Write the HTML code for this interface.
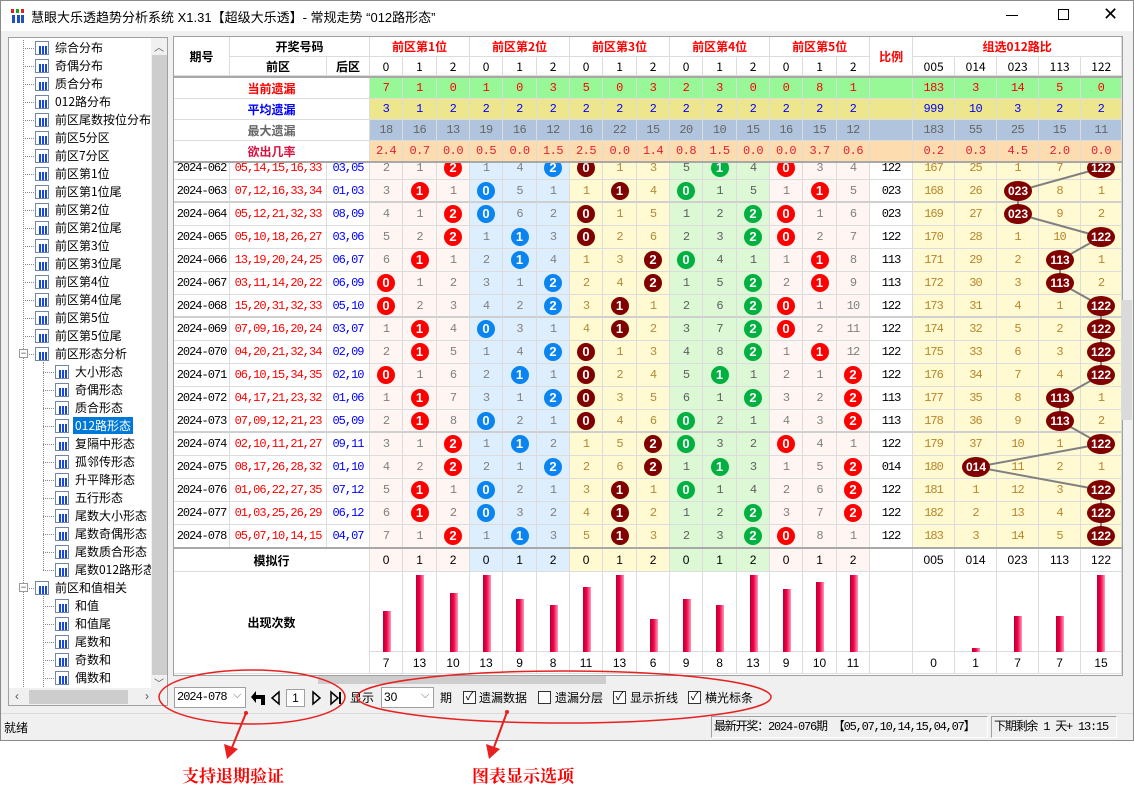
<!DOCTYPE html>
<html><head><meta charset="utf-8">
<style>
*{box-sizing:border-box}
body{margin:0;width:1134px;height:792px;position:relative;background:#fff;font-family:"Liberation Sans","Noto Sans CJK SC",sans-serif;overflow:hidden;font-size:12px;color:#000}
.win{position:absolute;left:0;top:0;width:1134px;height:741px;border:1px solid #8a8a8a;background:#f0f0f0}
.tb{position:absolute;left:0;top:0;width:1132px;height:30px;background:#fff}
.ttl{position:absolute;left:30px;top:6px;font-size:13px;color:#000}
.tree{position:absolute;left:8px;top:37px;width:160px;height:669px;border:1px solid #a0a0a0;background:#fff;overflow:hidden}
.t{position:absolute;height:18px;line-height:18px;font-size:12px;padding-left:20px;white-space:nowrap;font-family:"Noto Sans CJK SC","Liberation Sans",sans-serif}
.t::before{content:"";position:absolute;left:-12px;top:9px;width:11px;border-top:1px dotted #888}
.t s{position:absolute;left:0;top:2px;width:14px;height:14px;border:1px solid #6f86a6;background:linear-gradient(to right,transparent 2px,#1848d8 2px 4px,transparent 4px 5px,#1848d8 5px 7px,transparent 7px 8px,#1848d8 8px 10px,transparent 10px) 1px 4px/12px 8px no-repeat,#fff}
.l1{left:26px}.l2{left:46px}
.sel{background:#0078d7;color:#fff;padding:0 2px;margin-left:-2px}
.vl{position:absolute;border-left:1px dotted #888}
.mb{position:absolute;width:9px;height:9px;border:1px solid #999;background:#fff;font-size:9px;line-height:6px;text-align:center;color:#333}
.sb{position:absolute;background:#f0f0f0}
.th{position:absolute;background:#cdcdcd}
.grid{position:absolute;left:174px;border-collapse:separate;border-spacing:0;table-layout:fixed;width:948px}
.grid td{padding:0;border-right:1px solid #dcdcdc;border-bottom:1px solid #dcdcdc;text-align:center;overflow:hidden;white-space:nowrap;font-size:12px}
.hd td{background:#fff;font-family:"Noto Sans CJK SC",sans-serif}
.hb{font-weight:bold;font-size:13px}
.red{color:#f00}
.st td{font-family:"Liberation Mono",monospace;font-size:12px;letter-spacing:-0.5px}
.lab{font-weight:bold;font-size:13px;font-family:"Noto Sans CJK SC",sans-serif !important;letter-spacing:0 !important;background:#fff !important}
.r1 td{background:#98f898;color:#f00}
.r2 td{background:#eee68c;color:#00f}
.r3 td{background:#b0c4de;color:#666}
.r4 td{background:#fddcb0;color:#e0203a}
.d td{font-family:"Liberation Mono",monospace;letter-spacing:-1px;font-size:12px}
.d td:nth-child(1){color:#000}
.d td:nth-child(2){color:#f00}
.d td:nth-child(3){color:#00f}
.d td:nth-child(n+4):nth-child(-n+9){color:#808080}
.d td:nth-child(n+10):nth-child(-n+12){color:#b08a3a}
.d td:nth-child(n+13):nth-child(-n+15){color:#606060}
.d td:nth-child(n+16):nth-child(-n+18){color:#808080}
.d td:nth-child(19){color:#000}
.d td:nth-child(n+20){color:#b8862c}
i{display:inline-block;width:18px;height:18px;border-radius:50%;color:#fff;font-weight:bold;font-style:normal;line-height:18px;font-size:13px;letter-spacing:0;vertical-align:middle;font-family:"Liberation Sans",sans-serif}
.d td:nth-child(n+4):nth-child(-n+6) i,.d td:nth-child(n+16):nth-child(-n+18) i{background:#f00}
.d td:nth-child(n+7):nth-child(-n+9) i{background:#0a84f0}
.d td:nth-child(n+10):nth-child(-n+12) i{background:#800000}
.d td:nth-child(n+13):nth-child(-n+15) i{background:#00b040}
.d tr{height:23px}
.d tr.s td{border-bottom:2px solid #cfcfcf}
.clip{position:absolute;left:0;width:1134px;overflow:hidden}
.bar{position:absolute;width:8px;background:linear-gradient(to right,#b8002c,#f0004a 45%,#ff9ab8)}
.ctl{position:absolute;font-size:12px;font-family:"Noto Sans CJK SC",sans-serif}
.box{position:absolute;border:1px solid #a0a0a0;background:#fff}
.cb{position:absolute;width:13px;height:13px;border:1px solid #333;background:#fff;font-size:11px;line-height:11px;text-align:center}
.pan{position:absolute;top:716px;height:22px;border:1px solid #a0a0a0;border-right-color:#fff;border-bottom-color:#fff;line-height:20px;font-size:12px;padding-left:2px;white-space:nowrap;overflow:hidden;font-family:"Liberation Mono","Noto Sans CJK SC",monospace;letter-spacing:-1.2px}
</style></head><body>
<div class="win">
<div class="tb">
 <div style="position:absolute;left:10px;top:8px;width:14px;height:14px;background:linear-gradient(to right,transparent 1px,#2050c0 1px 4px,transparent 4px 6px,#2050c0 6px 9px,transparent 9px 10px,#2050c0 10px 13px,transparent 13px) 0 6px/14px 8px no-repeat,linear-gradient(to right,#e02020 0 3px,transparent 3px 5px,#20a020 5px 8px,transparent 8px 10px,#e02020 10px 13px,transparent 13px) 0 0/14px 4px no-repeat"></div>
 <div class="ttl">慧眼大乐透趋势分析系统 X1.31【超级大乐透】- 常规走势 “012路形态”</div>
 <div style="position:absolute;left:1005px;top:14px;width:12px;border-top:1px solid #000"></div>
 <div style="position:absolute;left:1057px;top:8px;width:11px;height:11px;border:1px solid #000"></div>
 <div style="position:absolute;left:1102px;top:3px;font-size:18px;line-height:20px">✕</div>
</div>
</div>

<div class="tree">
 <div class="vl" style="left:14px;top:2px;height:667px"></div>
 <div class="vl" style="left:34px;top:324px;height:208px"></div>
 <div class="vl" style="left:34px;top:558px;height:111px"></div>
 <div class="t l1" style="top:1px"><s></s>综合分布</div>
 <div class="t l1" style="top:19px"><s></s>奇偶分布</div>
 <div class="t l1" style="top:37px"><s></s>质合分布</div>
 <div class="t l1" style="top:55px"><s></s>012路分布</div>
 <div class="t l1" style="top:73px"><s></s>前区尾数按位分布</div>
 <div class="t l1" style="top:91px"><s></s>前区5分区</div>
 <div class="t l1" style="top:109px"><s></s>前区7分区</div>
 <div class="t l1" style="top:127px"><s></s>前区第1位</div>
 <div class="t l1" style="top:145px"><s></s>前区第1位尾</div>
 <div class="t l1" style="top:163px"><s></s>前区第2位</div>
 <div class="t l1" style="top:181px"><s></s>前区第2位尾</div>
 <div class="t l1" style="top:199px"><s></s>前区第3位</div>
 <div class="t l1" style="top:217px"><s></s>前区第3位尾</div>
 <div class="t l1" style="top:235px"><s></s>前区第4位</div>
 <div class="t l1" style="top:253px"><s></s>前区第4位尾</div>
 <div class="t l1" style="top:271px"><s></s>前区第5位</div>
 <div class="t l1" style="top:289px"><s></s>前区第5位尾</div>
 <div class="t l1" style="top:307px"><s></s>前区形态分析</div>
 <div class="mb" style="left:10px;top:311px">−</div>
 <div class="t l2" style="top:325px"><s></s>大小形态</div>
 <div class="t l2" style="top:343px"><s></s>奇偶形态</div>
 <div class="t l2" style="top:361px"><s></s>质合形态</div>
 <div class="t l2" style="top:379px"><s></s><span class="sel">012路形态</span></div>
 <div class="t l2" style="top:397px"><s></s>复隔中形态</div>
 <div class="t l2" style="top:415px"><s></s>孤邻传形态</div>
 <div class="t l2" style="top:433px"><s></s>升平降形态</div>
 <div class="t l2" style="top:451px"><s></s>五行形态</div>
 <div class="t l2" style="top:469px"><s></s>尾数大小形态</div>
 <div class="t l2" style="top:487px"><s></s>尾数奇偶形态</div>
 <div class="t l2" style="top:505px"><s></s>尾数质合形态</div>
 <div class="t l2" style="top:523px"><s></s>尾数012路形态</div>
 <div class="t l1" style="top:541px"><s></s>前区和值相关</div>
 <div class="mb" style="left:10px;top:545px">−</div>
 <div class="t l2" style="top:559px"><s></s>和值</div>
 <div class="t l2" style="top:577px"><s></s>和值尾</div>
 <div class="t l2" style="top:595px"><s></s>尾数和</div>
 <div class="t l2" style="top:613px"><s></s>奇数和</div>
 <div class="t l2" style="top:631px"><s></s>偶数和</div>
 <div class="t l2" style="top:649px"><s></s></div>
 <div class="sb" style="left:142px;top:0;width:17px;height:650px"></div>
 <div class="th" style="left:143px;top:17px;width:15px;height:620px"></div>
 <div style="position:absolute;left:145px;top:1px;font-size:10px;color:#555">︿</div>
 <div style="position:absolute;left:145px;top:637px;font-size:10px;color:#555">﹀</div>
 <div class="sb" style="left:0;top:650px;width:159px;height:18px"></div>
 <div class="th" style="left:20px;top:652px;width:99px;height:14px"></div>
 <div style="position:absolute;left:6px;top:651px;font-size:12px;color:#555">‹</div>
 <div style="position:absolute;left:136px;top:651px;font-size:12px;color:#555">›</div>
</div>

<div style="position:absolute;left:173px;top:36px;width:950px;height:640px;border:1px solid #a0a0a0;background:#fff"></div>

<table class="grid hd" style="top:37px">
<colgroup><col style="width:56px"><col style="width:97px"><col style="width:43px"><col style="width:33px"><col style="width:34px"><col style="width:33px"><col style="width:33px"><col style="width:34px"><col style="width:33px"><col style="width:33px"><col style="width:34px"><col style="width:33px"><col style="width:33px"><col style="width:34px"><col style="width:33px"><col style="width:33px"><col style="width:34px"><col style="width:33px"><col style="width:43px"><col style="width:42px"><col style="width:42px"><col style="width:42px"><col style="width:42px"><col style="width:41px"></colgroup>
<tr style="height:20px"><td rowspan="2" class="hb">期号</td><td colspan="2" class="hb">开奖号码</td><td colspan="3" class="hb red">前区第1位</td><td colspan="3" class="hb red">前区第2位</td><td colspan="3" class="hb red">前区第3位</td><td colspan="3" class="hb red">前区第4位</td><td colspan="3" class="hb red">前区第5位</td><td rowspan="2" class="hb red">比例</td><td colspan="5" class="hb red">组选012路比</td></tr>
<tr style="height:19px"><td class="hb">前区</td><td class="hb">后区</td><td>0</td><td>1</td><td>2</td><td>0</td><td>1</td><td>2</td><td>0</td><td>1</td><td>2</td><td>0</td><td>1</td><td>2</td><td>0</td><td>1</td><td>2</td><td>005</td><td>014</td><td>023</td><td>113</td><td>122</td></tr>
</table>
<div style="position:absolute;left:174px;top:76px;width:948px;height:2px;background:#a8a8a8"></div>
<table class="grid st" style="top:78px">
<colgroup><col style="width:56px"><col style="width:97px"><col style="width:43px"><col style="width:33px"><col style="width:34px"><col style="width:33px"><col style="width:33px"><col style="width:34px"><col style="width:33px"><col style="width:33px"><col style="width:34px"><col style="width:33px"><col style="width:33px"><col style="width:34px"><col style="width:33px"><col style="width:33px"><col style="width:34px"><col style="width:33px"><col style="width:43px"><col style="width:42px"><col style="width:42px"><col style="width:42px"><col style="width:42px"><col style="width:41px"></colgroup>
<tr class="r1" style="height:21px"><td colspan="3" class="lab" style="color:#f00">当前遗漏</td><td>7</td><td>1</td><td>0</td><td>1</td><td>0</td><td>3</td><td>5</td><td>0</td><td>3</td><td>2</td><td>3</td><td>0</td><td>0</td><td>8</td><td>1</td><td></td><td>183</td><td>3</td><td>14</td><td>5</td><td>0</td></tr>
<tr class="r2" style="height:21px"><td colspan="3" class="lab" style="color:#00f">平均遗漏</td><td>3</td><td>1</td><td>2</td><td>2</td><td>2</td><td>2</td><td>2</td><td>2</td><td>2</td><td>2</td><td>2</td><td>2</td><td>2</td><td>2</td><td>2</td><td></td><td>999</td><td>10</td><td>3</td><td>2</td><td>2</td></tr>
<tr class="r3" style="height:21px"><td colspan="3" class="lab" style="color:#666">最大遗漏</td><td>18</td><td>16</td><td>13</td><td>19</td><td>16</td><td>12</td><td>16</td><td>22</td><td>15</td><td>20</td><td>10</td><td>15</td><td>16</td><td>15</td><td>12</td><td></td><td>183</td><td>55</td><td>25</td><td>15</td><td>11</td></tr>
<tr class="r4" style="height:21px"><td colspan="3" class="lab" style="color:#d81040">欲出几率</td><td>2.4</td><td>0.7</td><td>0.0</td><td>0.5</td><td>0.0</td><td>1.5</td><td>2.5</td><td>0.0</td><td>1.4</td><td>0.8</td><td>1.5</td><td>0.0</td><td>0.0</td><td>3.7</td><td>0.6</td><td></td><td>0.2</td><td>0.3</td><td>4.5</td><td>2.0</td><td>0.0</td></tr>
</table>
<div style="position:absolute;left:174px;top:161px;width:948px;height:2px;background:#a8a8a8"></div>

<div class="clip" style="top:163px;height:384px">
<table class="grid d" style="top:-6px">
<colgroup><col style="width:56px;background:#fff"><col style="width:97px;background:#fff"><col style="width:43px;background:#fff"><col style="width:33px;background:#fff5f3"><col style="width:34px;background:#fff5f3"><col style="width:33px;background:#fff5f3"><col style="width:33px;background:#ddeeff"><col style="width:34px;background:#ddeeff"><col style="width:33px;background:#ddeeff"><col style="width:33px;background:#fffad2"><col style="width:34px;background:#fffad2"><col style="width:33px;background:#fffad2"><col style="width:33px;background:#dcf8d4"><col style="width:34px;background:#dcf8d4"><col style="width:33px;background:#dcf8d4"><col style="width:33px;background:#fff5f3"><col style="width:34px;background:#fff5f3"><col style="width:33px;background:#fff5f3"><col style="width:43px;background:#fff"><col style="width:42px;background:#fffad2"><col style="width:42px;background:#fffad2"><col style="width:42px;background:#fffad2"><col style="width:42px;background:#fffad2"><col style="width:41px;background:#fffad2"></colgroup>
<tr><td>2024-062</td><td>05,14,15,16,33</td><td>03,05</td><td>2</td><td>1</td><td><i>2</i></td><td>1</td><td>4</td><td><i>2</i></td><td><i>0</i></td><td>1</td><td>3</td><td>5</td><td><i>1</i></td><td>4</td><td><i>0</i></td><td>3</td><td>4</td><td>122</td><td>167</td><td>25</td><td>1</td><td>7</td><td></td></tr>
<tr class="s"><td>2024-063</td><td>07,12,16,33,34</td><td>01,03</td><td>3</td><td><i>1</i></td><td>1</td><td><i>0</i></td><td>5</td><td>1</td><td>1</td><td><i>1</i></td><td>4</td><td><i>0</i></td><td>1</td><td>5</td><td>1</td><td><i>1</i></td><td>5</td><td>023</td><td>168</td><td>26</td><td></td><td>8</td><td>1</td></tr>
<tr><td>2024-064</td><td>05,12,21,32,33</td><td>08,09</td><td>4</td><td>1</td><td><i>2</i></td><td><i>0</i></td><td>6</td><td>2</td><td><i>0</i></td><td>1</td><td>5</td><td>1</td><td>2</td><td><i>2</i></td><td><i>0</i></td><td>1</td><td>6</td><td>023</td><td>169</td><td>27</td><td></td><td>9</td><td>2</td></tr>
<tr><td>2024-065</td><td>05,10,18,26,27</td><td>03,06</td><td>5</td><td>2</td><td><i>2</i></td><td>1</td><td><i>1</i></td><td>3</td><td><i>0</i></td><td>2</td><td>6</td><td>2</td><td>3</td><td><i>2</i></td><td><i>0</i></td><td>2</td><td>7</td><td>122</td><td>170</td><td>28</td><td>1</td><td>10</td><td></td></tr>
<tr><td>2024-066</td><td>13,19,20,24,25</td><td>06,07</td><td>6</td><td><i>1</i></td><td>1</td><td>2</td><td><i>1</i></td><td>4</td><td>1</td><td>3</td><td><i>2</i></td><td><i>0</i></td><td>4</td><td>1</td><td>1</td><td><i>1</i></td><td>8</td><td>113</td><td>171</td><td>29</td><td>2</td><td></td><td>1</td></tr>
<tr><td>2024-067</td><td>03,11,14,20,22</td><td>06,09</td><td><i>0</i></td><td>1</td><td>2</td><td>3</td><td>1</td><td><i>2</i></td><td>2</td><td>4</td><td><i>2</i></td><td>1</td><td>5</td><td><i>2</i></td><td>2</td><td><i>1</i></td><td>9</td><td>113</td><td>172</td><td>30</td><td>3</td><td></td><td>2</td></tr>
<tr class="s"><td>2024-068</td><td>15,20,31,32,33</td><td>05,10</td><td><i>0</i></td><td>2</td><td>3</td><td>4</td><td>2</td><td><i>2</i></td><td>3</td><td><i>1</i></td><td>1</td><td>2</td><td>6</td><td><i>2</i></td><td><i>0</i></td><td>1</td><td>10</td><td>122</td><td>173</td><td>31</td><td>4</td><td>1</td><td></td></tr>
<tr><td>2024-069</td><td>07,09,16,20,24</td><td>03,07</td><td>1</td><td><i>1</i></td><td>4</td><td><i>0</i></td><td>3</td><td>1</td><td>4</td><td><i>1</i></td><td>2</td><td>3</td><td>7</td><td><i>2</i></td><td><i>0</i></td><td>2</td><td>11</td><td>122</td><td>174</td><td>32</td><td>5</td><td>2</td><td></td></tr>
<tr><td>2024-070</td><td>04,20,21,32,34</td><td>02,09</td><td>2</td><td><i>1</i></td><td>5</td><td>1</td><td>4</td><td><i>2</i></td><td><i>0</i></td><td>1</td><td>3</td><td>4</td><td>8</td><td><i>2</i></td><td>1</td><td><i>1</i></td><td>12</td><td>122</td><td>175</td><td>33</td><td>6</td><td>3</td><td></td></tr>
<tr><td>2024-071</td><td>06,10,15,34,35</td><td>02,10</td><td><i>0</i></td><td>1</td><td>6</td><td>2</td><td><i>1</i></td><td>1</td><td><i>0</i></td><td>2</td><td>4</td><td>5</td><td><i>1</i></td><td>1</td><td>2</td><td>1</td><td><i>2</i></td><td>122</td><td>176</td><td>34</td><td>7</td><td>4</td><td></td></tr>
<tr><td>2024-072</td><td>04,17,21,23,32</td><td>01,06</td><td>1</td><td><i>1</i></td><td>7</td><td>3</td><td>1</td><td><i>2</i></td><td><i>0</i></td><td>3</td><td>5</td><td>6</td><td>1</td><td><i>2</i></td><td>3</td><td>2</td><td><i>2</i></td><td>113</td><td>177</td><td>35</td><td>8</td><td></td><td>1</td></tr>
<tr class="s"><td>2024-073</td><td>07,09,12,21,23</td><td>05,09</td><td>2</td><td><i>1</i></td><td>8</td><td><i>0</i></td><td>2</td><td>1</td><td><i>0</i></td><td>4</td><td>6</td><td><i>0</i></td><td>2</td><td>1</td><td>4</td><td>3</td><td><i>2</i></td><td>113</td><td>178</td><td>36</td><td>9</td><td></td><td>2</td></tr>
<tr><td>2024-074</td><td>02,10,11,21,27</td><td>09,11</td><td>3</td><td>1</td><td><i>2</i></td><td>1</td><td><i>1</i></td><td>2</td><td>1</td><td>5</td><td><i>2</i></td><td><i>0</i></td><td>3</td><td>2</td><td><i>0</i></td><td>4</td><td>1</td><td>122</td><td>179</td><td>37</td><td>10</td><td>1</td><td></td></tr>
<tr><td>2024-075</td><td>08,17,26,28,32</td><td>01,10</td><td>4</td><td>2</td><td><i>2</i></td><td>2</td><td>1</td><td><i>2</i></td><td>2</td><td>6</td><td><i>2</i></td><td>1</td><td><i>1</i></td><td>3</td><td>1</td><td>5</td><td><i>2</i></td><td>014</td><td>180</td><td></td><td>11</td><td>2</td><td>1</td></tr>
<tr><td>2024-076</td><td>01,06,22,27,35</td><td>07,12</td><td>5</td><td><i>1</i></td><td>1</td><td><i>0</i></td><td>2</td><td>1</td><td>3</td><td><i>1</i></td><td>1</td><td><i>0</i></td><td>1</td><td>4</td><td>2</td><td>6</td><td><i>2</i></td><td>122</td><td>181</td><td>1</td><td>12</td><td>3</td><td></td></tr>
<tr><td>2024-077</td><td>01,03,25,26,29</td><td>06,12</td><td>6</td><td><i>1</i></td><td>2</td><td><i>0</i></td><td>3</td><td>2</td><td>4</td><td><i>1</i></td><td>2</td><td>1</td><td>2</td><td><i>2</i></td><td>3</td><td>7</td><td><i>2</i></td><td>122</td><td>182</td><td>2</td><td>13</td><td>4</td><td></td></tr>
<tr><td>2024-078</td><td>05,07,10,14,15</td><td>04,07</td><td>7</td><td>1</td><td><i>2</i></td><td>1</td><td><i>1</i></td><td>3</td><td>5</td><td><i>1</i></td><td>3</td><td>2</td><td>3</td><td><i>2</i></td><td><i>0</i></td><td>8</td><td>1</td><td>122</td><td>183</td><td>3</td><td>14</td><td>5</td><td></td></tr>
</table>
<svg style="position:absolute;left:0;top:-163px" width="1134" height="792">
<polyline points="1101,168 1018,191 1018,214 1101,237 1060,260 1060,283 1101,306 1101,329 1101,352 1101,375 1060,398 1060,421 1101,444 976,467 1101,490 1101,513 1101,536" fill="none" stroke="#808080" stroke-width="2"/>
<g fill="#800000"><ellipse cx="1101" cy="168" rx="14" ry="10"/><ellipse cx="1018" cy="191" rx="14" ry="10"/><ellipse cx="1018" cy="214" rx="14" ry="10"/><ellipse cx="1101" cy="237" rx="14" ry="10"/><ellipse cx="1060" cy="260" rx="14" ry="10"/><ellipse cx="1060" cy="283" rx="14" ry="10"/><ellipse cx="1101" cy="306" rx="14" ry="10"/><ellipse cx="1101" cy="329" rx="14" ry="10"/><ellipse cx="1101" cy="352" rx="14" ry="10"/><ellipse cx="1101" cy="375" rx="14" ry="10"/><ellipse cx="1060" cy="398" rx="14" ry="10"/><ellipse cx="1060" cy="421" rx="14" ry="10"/><ellipse cx="1101" cy="444" rx="14" ry="10"/><ellipse cx="976" cy="467" rx="14" ry="10"/><ellipse cx="1101" cy="490" rx="14" ry="10"/><ellipse cx="1101" cy="513" rx="14" ry="10"/><ellipse cx="1101" cy="536" rx="14" ry="10"/></g>
<g fill="#fff" font-family="Liberation Sans" font-weight="bold" font-size="12" text-anchor="middle"><text x="1101" y="172">122</text><text x="1018" y="195">023</text><text x="1018" y="218">023</text><text x="1101" y="241">122</text><text x="1060" y="264">113</text><text x="1060" y="287">113</text><text x="1101" y="310">122</text><text x="1101" y="333">122</text><text x="1101" y="356">122</text><text x="1101" y="379">122</text><text x="1060" y="402">113</text><text x="1060" y="425">113</text><text x="1101" y="448">122</text><text x="976" y="471">014</text><text x="1101" y="494">122</text><text x="1101" y="517">122</text><text x="1101" y="540">122</text></g>
</svg>
</div>
<div style="position:absolute;left:174px;top:547px;width:948px;height:2px;background:#a8a8a8"></div>

<table class="grid" style="top:549px">
<colgroup><col style="width:56px"><col style="width:97px"><col style="width:43px"><col style="width:33px;background:#fff5f3"><col style="width:34px;background:#fff5f3"><col style="width:33px;background:#fff5f3"><col style="width:33px;background:#ddeeff"><col style="width:34px;background:#ddeeff"><col style="width:33px;background:#ddeeff"><col style="width:33px;background:#fffad2"><col style="width:34px;background:#fffad2"><col style="width:33px;background:#fffad2"><col style="width:33px;background:#dcf8d4"><col style="width:34px;background:#dcf8d4"><col style="width:33px;background:#dcf8d4"><col style="width:33px;background:#fff5f3"><col style="width:34px;background:#fff5f3"><col style="width:33px;background:#fff5f3"><col style="width:43px"><col style="width:42px"><col style="width:42px"><col style="width:42px"><col style="width:42px"><col style="width:41px"></colgroup>
<tr style="height:23px"><td colspan="3" class="hb" style="background:#fff;font-family:'Noto Sans CJK SC',sans-serif">模拟行</td><td>0</td><td>1</td><td>2</td><td>0</td><td>1</td><td>2</td><td>0</td><td>1</td><td>2</td><td>0</td><td>1</td><td>2</td><td>0</td><td>1</td><td>2</td><td style="background:#fff"></td><td style="background:#fff">005</td><td style="background:#fff">014</td><td style="background:#fff">023</td><td style="background:#fff">113</td><td style="background:#fff">122</td></tr>
<tr style="height:80px;background:#fff"><td colspan="3" rowspan="2" class="hb" style="background:#fff;font-family:'Noto Sans CJK SC',sans-serif">出现次数</td><td style="background:#fff"></td><td style="background:#fff"></td><td style="background:#fff"></td><td style="background:#fff"></td><td style="background:#fff"></td><td style="background:#fff"></td><td style="background:#fff"></td><td style="background:#fff"></td><td style="background:#fff"></td><td style="background:#fff"></td><td style="background:#fff"></td><td style="background:#fff"></td><td style="background:#fff"></td><td style="background:#fff"></td><td style="background:#fff"></td><td style="background:#fff"></td><td></td><td></td><td></td><td></td><td></td></tr>
<tr style="height:22px"><td style="background:#fff">7</td><td style="background:#fff">13</td><td style="background:#fff">10</td><td style="background:#fff">13</td><td style="background:#fff">9</td><td style="background:#fff">8</td><td style="background:#fff">11</td><td style="background:#fff">13</td><td style="background:#fff">6</td><td style="background:#fff">9</td><td style="background:#fff">8</td><td style="background:#fff">13</td><td style="background:#fff">9</td><td style="background:#fff">10</td><td style="background:#fff">11</td><td style="background:#fff"></td><td>0</td><td>1</td><td>7</td><td>7</td><td>15</td></tr>
</table>
<div style="position:absolute;left:0;top:0;width:1134px;height:792px;pointer-events:none">
<div class="bar" style="left:383px;top:611px;height:41px"></div>
<div class="bar" style="left:416px;top:575px;height:77px"></div>
<div class="bar" style="left:450px;top:593px;height:59px"></div>
<div class="bar" style="left:483px;top:575px;height:77px"></div>
<div class="bar" style="left:516px;top:599px;height:53px"></div>
<div class="bar" style="left:550px;top:605px;height:47px"></div>
<div class="bar" style="left:583px;top:587px;height:65px"></div>
<div class="bar" style="left:616px;top:575px;height:77px"></div>
<div class="bar" style="left:650px;top:619px;height:33px"></div>
<div class="bar" style="left:683px;top:599px;height:53px"></div>
<div class="bar" style="left:716px;top:605px;height:47px"></div>
<div class="bar" style="left:750px;top:575px;height:77px"></div>
<div class="bar" style="left:783px;top:589px;height:63px"></div>
<div class="bar" style="left:816px;top:582px;height:70px"></div>
<div class="bar" style="left:850px;top:575px;height:77px"></div>
<div class="bar" style="left:972px;top:648px;height:4px"></div>
<div class="bar" style="left:1014px;top:616px;height:36px"></div>
<div class="bar" style="left:1056px;top:616px;height:36px"></div>
<div class="bar" style="left:1097px;top:575px;height:77px"></div>
</div>
<div style="position:absolute;left:318px;top:676px;width:288px;height:8px;background:#cdcdcd"></div>
<div style="position:absolute;left:1122px;top:300px;width:10px;height:120px;background:#dadada"></div>

<div class="box" style="left:174px;top:687px;width:72px;height:21px"><span style="position:absolute;left:2px;top:2px;font-family:'Liberation Mono',monospace;font-size:12px;letter-spacing:-1px">2024-078</span><span style="position:absolute;left:58px;top:1px;font-size:11px;color:#666">⌵</span></div>
<svg style="position:absolute;left:249px;top:689px" width="96" height="18">
<path d="M2 16 V6 H11 V2 L16 8 L11 14 V10 H6 V16 Z" fill="#000" transform="scale(-1,1) translate(-18,0)"/>
<polygon points="30,3 23,9 30,15" fill="none" stroke="#000" stroke-width="1.5"/>
<polygon points="64,3 71,9 64,15" fill="none" stroke="#000" stroke-width="1.5"/>
<polygon points="82,3 89,9 82,15" fill="none" stroke="#000" stroke-width="1.5"/><line x1="91" y1="3" x2="91" y2="15" stroke="#000" stroke-width="2"/>
</svg>
<div class="box" style="left:286px;top:689px;width:19px;height:18px;text-align:center;line-height:16px;font-size:12px">1</div>
<div class="ctl" style="left:350px;top:689px">显示</div>
<div class="box" style="left:381px;top:687px;width:53px;height:21px"><span style="position:absolute;left:2px;top:2px;font-size:12px">30</span><span style="position:absolute;left:39px;top:1px;font-size:11px;color:#666">⌵</span></div>
<div class="ctl" style="left:440px;top:689px">期</div>
<div class="cb" style="left:463px;top:691px">✓</div><div class="ctl" style="left:479px;top:689px">遗漏数据</div>
<div class="cb" style="left:538px;top:691px"></div><div class="ctl" style="left:555px;top:689px">遗漏分层</div>
<div class="cb" style="left:613px;top:691px">✓</div><div class="ctl" style="left:630px;top:689px">显示折线</div>
<div class="cb" style="left:688px;top:691px">✓</div><div class="ctl" style="left:705px;top:689px">横光标条</div>

<div style="position:absolute;left:1px;top:713px;width:1132px;border-top:1px solid #dadada"></div>
<div class="ctl" style="left:4px;top:719px">就绪</div>
<div class="pan" style="left:711px;width:277px">最新开奖：2024-076期 【05,07,10,14,15,04,07】</div>
<div class="pan" style="left:991px;width:126px">下期剩余 1 天+ 13:15</div>

<svg style="position:absolute;left:0;top:0" width="1134" height="792">
<ellipse cx="252" cy="697" rx="93" ry="27" fill="none" stroke="#e82020" stroke-width="1.5"/>
<ellipse cx="564" cy="697" rx="207" ry="26" fill="none" stroke="#e82020" stroke-width="1.5"/>
<circle cx="246" cy="713" r="2" fill="#e82020"/><circle cx="507" cy="712" r="2" fill="#e82020"/>
<line x1="246" y1="713" x2="231" y2="750" stroke="#e82020" stroke-width="2"/>
<polygon points="227,759 224,744 238,749" fill="#e82020"/>
<line x1="507" y1="712" x2="493" y2="750" stroke="#e82020" stroke-width="2"/>
<polygon points="489,759 486,744 500,749" fill="#e82020"/>
</svg>
<div style="position:absolute;left:182px;top:762px;font-size:17px;font-weight:bold;color:#f00;font-family:'Noto Serif CJK SC','Noto Sans CJK SC',serif">支持退期验证</div>
<div style="position:absolute;left:472px;top:762px;font-size:17px;font-weight:bold;color:#f00;font-family:'Noto Serif CJK SC','Noto Sans CJK SC',serif">图表显示选项</div>
</body></html>
